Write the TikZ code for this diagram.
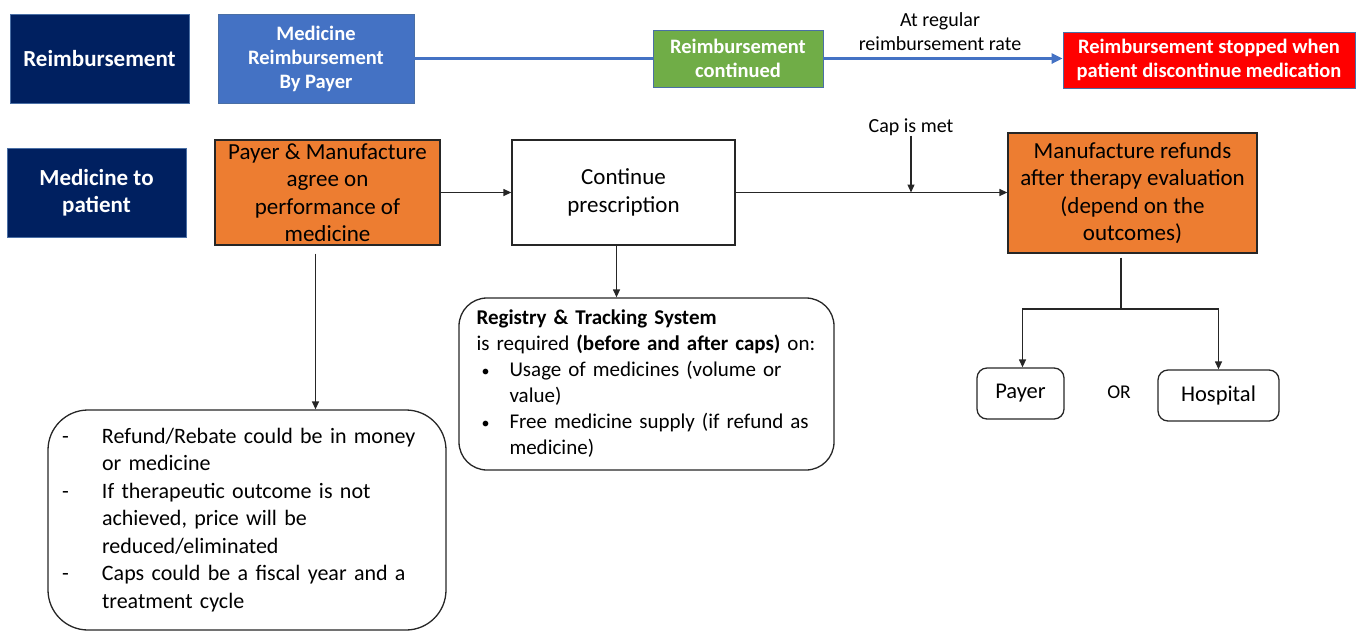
\documentclass[tikz,border=0pt]{standalone}
\usepackage{fontspec}
\setmainfont{Carlito}
\usepackage{xcolor}
\usetikzlibrary{arrows.meta,positioning,calc}
\definecolor{navy}{HTML}{002060}
\definecolor{payblue}{HTML}{4472C4}
\definecolor{edgeblue}{HTML}{4A6FA5}
\definecolor{contgreen}{HTML}{70AD47}
\definecolor{agreeorange}{HTML}{ED7D31}

\begin{document}
\begin{tikzpicture}[x=1pt,y=-1pt,
   hdr/.style={draw=edgeblue,line width=0.8pt,text=white,align=center,inner sep=0pt,
               font=\bfseries\fontsize{20.5}{24}\selectfont},
   blk/.style={draw=black!85,line width=1.3pt,align=center,inner sep=0pt,
               font=\fontsize{23}{27.5}\selectfont},
   note/.style={draw=black!85,line width=1.3pt,align=left,inner sep=0pt},
   lbl/.style={font=\fontsize{20}{24}\selectfont,align=center,inner sep=0pt},
   line/.style={draw=black!85,line width=1.3pt},
   arr/.style={line,-{Triangle[length=8pt,width=7pt]}},
   bline/.style={draw=payblue,line width=3pt}]
  \useasboundingbox (0,0) rectangle (1364,630);

  % top row
  \node[hdr,fill=navy,minimum width=179pt,minimum height=89pt,
        font=\bfseries\fontsize{23}{24}\selectfont] (reimb) at (99.5,58.5) {Reimbursement};
  \node[hdr,fill=payblue,minimum width=196pt,minimum height=89pt] (payer-reimb) at (316,58.5)
       {Medicine\\Reimbursement\\By Payer};
  \node[hdr,fill=contgreen,minimum width=170pt,minimum height=57pt] (cont) at (738,58.5)
       {Reimbursement\\continued};
  \node[hdr,fill=red,minimum width=292pt,minimum height=56pt,
        font=\bfseries\fontsize{20.5}{24}\selectfont] (stop) at (1209,60)
       {Reimbursement stopped when\\patient discontinue medication};
  \node[lbl] (rate) at (940,32) {At regular\\reimbursement rate};
  \draw[bline] (payer-reimb.east) -- (cont.west);
  \draw[bline,-{Triangle[length=11pt,width=10pt]}] (cont.east) -- (cont.east -| stop.west);

  % second row
  \node[hdr,fill=navy,minimum width=179pt,minimum height=89pt,
        font=\bfseries\fontsize{23}{27}\selectfont] (medpat) at (96.5,192.5) {Medicine to\\patient};
  \node[blk,fill=agreeorange,minimum width=225pt,minimum height=105pt] (agree) at (327.5,192.5)
       {Payer \& Manufacture\\agree on\\performance of\\medicine};
  \node[blk,fill=white,minimum width=223pt,minimum height=105pt] (presc) at (623.5,192.5)
       {Continue\\prescription};
  \node[blk,fill=agreeorange,minimum width=249pt,minimum height=120pt] (refund) at (1132.5,193)
       {Manufacture refunds\\after therapy evaluation\\(depend on the\\outcomes)};
  \node[lbl] (cap) at (911,127) {Cap is met};
  \draw[arr] (agree.east) -- (presc.west);
  \draw[arr] (presc.east) -- (presc.east -| refund.west);
  \draw[arr] (cap.south) -- (cap.south |- presc.east);

  % notes
  \node[note,rounded corners=40pt,minimum width=398pt,minimum height=220pt,text width=370pt,
        font=\fontsize{22}{27.5}\selectfont] (cond) at (247,520)
       {\makebox[40pt][l]{-}Refund/Rebate could be in money\\
        \hspace*{40pt}or medicine\\
        \makebox[40pt][l]{-}If therapeutic outcome is not\\
        \hspace*{40pt}achieved, price will be\\
        \hspace*{40pt}reduced/eliminated\\
        \makebox[40pt][l]{-}Caps could be a fiscal year and a\\
        \hspace*{40pt}treatment cycle};
  \node[note,rounded corners=28pt,minimum width=375pt,minimum height=172pt,text width=340pt,
        font=\fontsize{21}{26}\selectfont] (reg) at (646.5,384)
       {\textbf{Registry \& Tracking System}\\
        is required \textbf{(before and after caps)} on:\\
        \hspace*{5pt}\makebox[28pt][l]{\fontsize{16}{16}\selectfont •}Usage of medicines (volume or\\
        \hspace*{33pt}value)\\
        \hspace*{5pt}\makebox[28pt][l]{\fontsize{16}{16}\selectfont •}Free medicine supply (if refund as\\
        \hspace*{33pt}medicine)};
  \draw[arr,shorten <=8pt] ([xshift=-12pt]agree.south) -- ([xshift=-12pt]agree.south |- cond.north);
  \draw[arr] ([xshift=-7pt]presc.south) -- ([xshift=-7pt]presc.south |- reg.north);

  % refund targets
  \node[blk,rounded corners=10pt,minimum width=87pt,minimum height=51pt,
        font=\fontsize{22.5}{26}\selectfont] (payer) at (1020.5,393.5) {Payer};
  \node[blk,rounded corners=10pt,minimum width=121pt,minimum height=51pt,
        font=\fontsize{22.5}{26}\selectfont] (hosp) at (1218.5,395.5) {Hospital};
  \node[lbl,font=\fontsize{19.5}{24}\selectfont] (or) at (1119,392) {OR};
  \coordinate (split) at (1121,309);
  \draw[line,shorten <=4pt] (split |- refund.south) -- (split);
  \draw[arr] (split) -| ([xshift=2pt]payer.north);
  \draw[arr] (split) -| (hosp.north);
\end{tikzpicture}
\end{document}
